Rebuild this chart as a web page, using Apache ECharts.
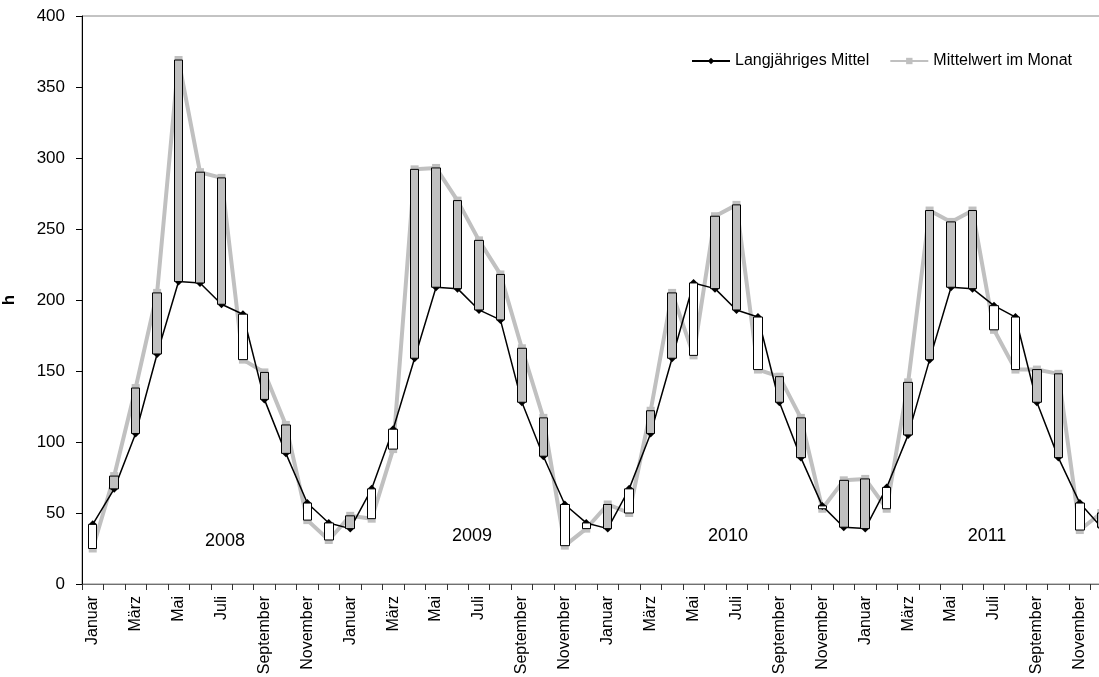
<!DOCTYPE html>
<html>
<head>
<meta charset="utf-8">
<script src="https://cdn.jsdelivr.net/npm/echarts@6/dist/echarts.min.js"></script>
<style>
html,body{margin:0;padding:0;background:#fff;}
#chart{width:1099px;height:677px;}
</style>
</head>
<body>
<div id="chart"></div>
<script>
// ---- data ----
const monthNames = ['Januar','Februar','März','April','Mai','Juni','Juli','August','September','Oktober','November','Dezember'];
const years = ['2008','2009','2010','2011'];
const yTicks = [0,50,100,150,200,250,300,350,400];
// Langjähriges Mittel (h)
const longTerm = [42,67,106,162,213,212,197,190,130,92,57,43,
                  39,67,109,159,209,208,193,186,128,90,56,43,
                  39,67,106,159,212,208,193,188,128,89,55,40,
                  39,68,105,158,209,208,196,188,128,89,57,40];
// Mittelwert im Monat (h)
const monthly  = [25,76,138,205,369,290,286,158,149,112,45,31,
                  48,46,95,292,293,270,242,218,166,117,27,39,
                  56,50,122,205,161,259,267,151,146,117,53,73,
                  74,53,142,263,255,263,179,151,151,148,38,50];

// ---- build ----
const categories = [];
years.forEach(() => monthNames.forEach(m => categories.push(m)));
const candles = longTerm.map((v, i) => {
  const m = monthly[i];
  return [v, m, Math.min(v, m), Math.max(v, m)];
});

const font = "'Liberation Sans', Arial, sans-serif";
const yearText = (t, x, y) => ({
  type: 'text', x: x, y: y,
  style: {text: t, font: '18px ' + font, fill: '#000', textAlign: 'center', textVerticalAlign: 'middle'}
});
const chart = echarts.init(document.getElementById('chart'), null, {renderer: 'canvas'});
chart.setOption({
  animation: false,
  backgroundColor: '#fff',
  textStyle: {fontFamily: font},
  grid: {left: 82, width: 1030, top: 16, height: 568, show: true, borderColor: '#888', borderWidth: 1,
         outerBoundsMode: 'none', containLabel: false},
  legend: {
    data: ['Langjähriges Mittel', 'Mittelwert im Monat'],
    right: 22, top: 48, itemGap: 20, itemWidth: 38, itemHeight: 8,
    textStyle: {fontFamily: font, fontSize: 16, color: '#000'}
  },
  xAxis: {
    type: 'category', data: categories, boundaryGap: true,
    axisLine: {lineStyle: {color: '#707070', width: 1}},
    axisTick: {show: true, interval: 0, length: 6, lineStyle: {color: '#333'}},
    axisLabel: {interval: 1, rotate: 90, fontFamily: font, fontSize: 16, color: '#000', margin: 12}
  },
  yAxis: {
    type: 'value', min: yTicks[0], max: yTicks[yTicks.length - 1], interval: 50,
    name: 'h', nameLocation: 'middle', nameRotate: 90, nameGap: 64,
    nameTextStyle: {fontFamily: font, fontSize: 17, fontWeight: 'bold', color: '#000'},
    axisLine: {show: true, lineStyle: {color: '#000', width: 1}},
    axisTick: {show: true, length: 6, lineStyle: {color: '#000'}},
    splitLine: {show: false},
    axisLabel: {fontFamily: font, fontSize: 17, color: '#000', margin: 17}
  },
  graphic: [
    yearText(years[0], 225, 541),
    yearText(years[1], 472, 536),
    yearText(years[2], 728, 536),
    yearText(years[3], 987, 536)
  ],
  series: [
    {
      name: 'Mittelwert im Monat', type: 'line', data: monthly, z: 2,
      symbol: 'rect', symbolSize: 8,
      itemStyle: {color: '#c0c0c0'},
      lineStyle: {color: '#c0c0c0', width: 4}
    },
    {
      name: 'Langjähriges Mittel', type: 'line', data: longTerm, z: 3,
      symbol: 'diamond', symbolSize: 8,
      itemStyle: {color: '#000'},
      lineStyle: {color: '#000', width: 1.5}
    },
    {
      name: 'bars', type: 'candlestick', data: candles, z: 4, barWidth: 9,
      itemStyle: {color: '#c0c0c0', color0: '#ffffff', borderColor: '#000', borderColor0: '#000', borderWidth: 1}
    }
  ]
});
</script>
</body>
</html>
